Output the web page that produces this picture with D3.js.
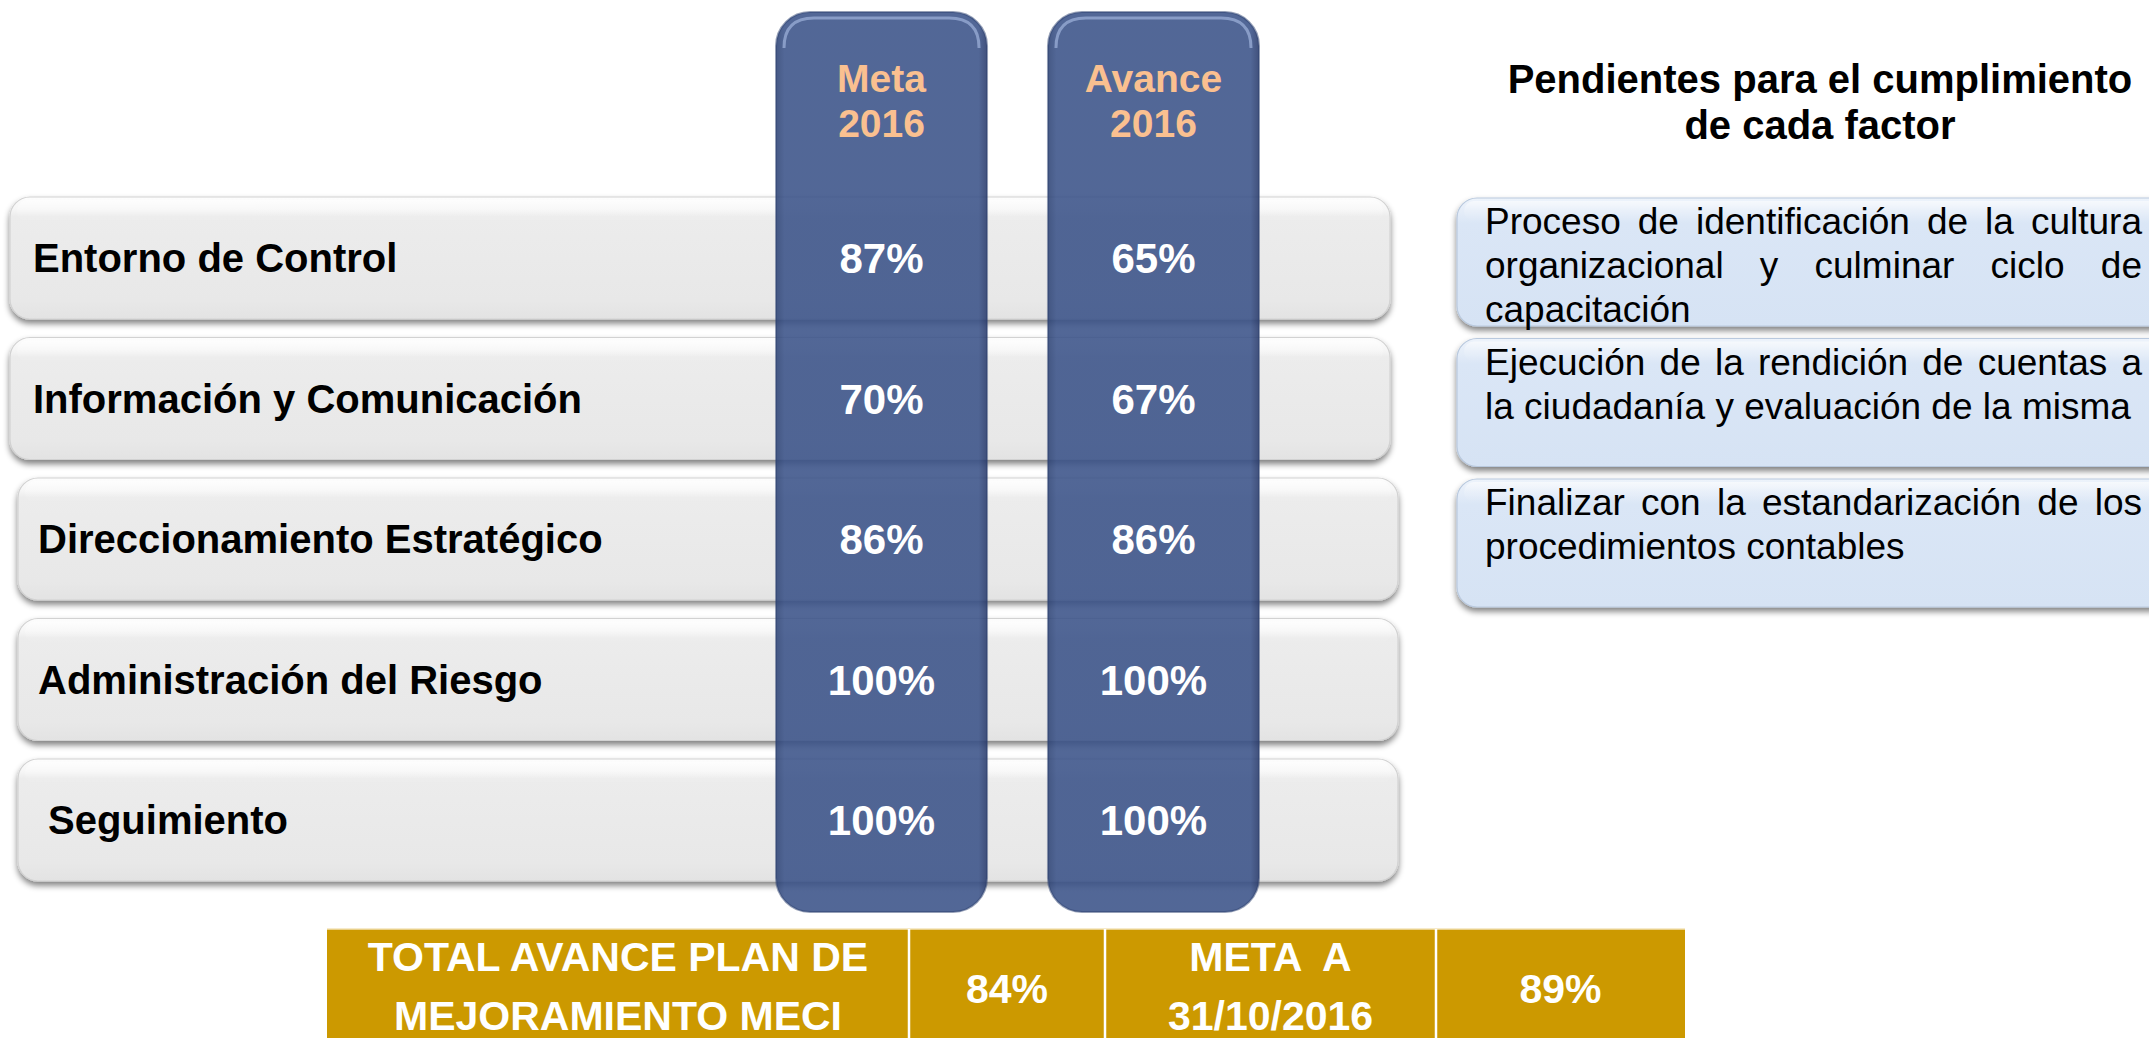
<!DOCTYPE html>
<html><head><meta charset="utf-8">
<script src="https://cdn.jsdelivr.net/npm/d3@7/dist/d3.min.js"></script>
<style>
html,body{margin:0;padding:0;background:#fff;overflow:hidden}
svg{display:block}
text{font-family:"Liberation Sans",Arial,Helvetica,sans-serif;white-space:pre}
</style></head>
<body>
<svg id="chart" width="2149" height="1038"></svg>
<script>
// ---------- data ----------
const factors = ["Entorno de Control", "Información y Comunicación", "Direccionamiento Estratégico", "Administración del Riesgo", "Seguimiento"];
const meta2016 = [87, 70, 86, 100, 100];
const avance2016 = [65, 67, 86, 100, 100];
const seriesNames = ["Meta 2016", "Avance 2016"];
const seriesHeaders = [["Meta", "2016"], ["Avance", "2016"]];
const pendientesTitle = ["Pendientes para el cumplimiento", "de cada factor"];
const pendientes = [
  ["Proceso de identificación de la cultura", "organizacional y culminar ciclo de", "capacitación"],
  ["Ejecución de la rendición de cuentas a", "la ciudadanía y evaluación de la misma"],
  ["Finalizar con la estandarización de los", "procedimientos contables"]
];
const totalLabels = [["TOTAL AVANCE PLAN DE", "MEJORAMIENTO MECI"], ["META  A", "31/10/2016"]];
const totalValues = [84, 89];

// ---------- layout ----------
const svg = d3.select("#chart");
const defs = svg.append("defs");

const y = d3.scalePoint().domain(factors).range([258, 820]);
const x = d3.scaleBand().domain(seriesNames).range([776, 1259]).paddingInner(0.224);
const fmt = v => v + "%";
const rowInset = [0, 0, 8, 8, 8];      // small left/right offsets of the factor bars
const labelIndent = [0, 0, 5, 5, 15];  // extra indentation of factor labels

// gradients & filters
const gGray = defs.append("linearGradient").attr("id", "gGray").attr("x1", 0).attr("y1", 0).attr("x2", 0).attr("y2", 1);
[[0, "#fdfdfd"], [0.1, "#f6f6f6"], [0.16, "#ececec"], [0.85, "#e8e8e8"], [1, "#e3e3e3"]].forEach(s => gGray.append("stop").attr("offset", s[0]).attr("stop-color", s[1]));
const gBlue = defs.append("linearGradient").attr("id", "gBlue").attr("x1", 0).attr("y1", 0).attr("x2", 0).attr("y2", 1);
[[0, "#edf3fb"], [0.12, "#e3ecf8"], [0.2, "#dae6f6"], [1, "#d6e3f4"]].forEach(s => gBlue.append("stop").attr("offset", s[0]).attr("stop-color", s[1]));
const gCol = defs.append("linearGradient").attr("id", "gCol").attr("x1", 0).attr("y1", 0).attr("x2", 1).attr("y2", 0);
[[0, "#2c4274"], [0.04, "#3a5288"], [0.96, "#3a5288"], [1, "#27396a"]].forEach(s => gCol.append("stop").attr("offset", s[0]).attr("stop-color", s[1]));
const gHi = defs.append("linearGradient").attr("id", "gHi").attr("x1", 0).attr("y1", 0).attr("x2", 0).attr("y2", 1);
[[0, "#ffffff", 0.55], [0.5, "#ffffff", 0.15], [1, "#ffffff", 0]].forEach(s => gHi.append("stop").attr("offset", s[0]).attr("stop-color", s[1]).attr("stop-opacity", s[2]));

const sh = defs.append("filter").attr("id", "shadow").attr("x", "-5%").attr("y", "-10%").attr("width", "110%").attr("height", "130%");
sh.append("feGaussianBlur").attr("in", "SourceAlpha").attr("stdDeviation", 3);
sh.append("feOffset").attr("dx", 0).attr("dy", 4).attr("result", "ob");
sh.append("feComponentTransfer").append("feFuncA").attr("type", "linear").attr("slope", 0.5);
const m = sh.append("feMerge"); m.append("feMergeNode"); m.append("feMergeNode").attr("in", "SourceGraphic");

// ---------- gray factor bars ----------
const rowH = 122;
const rows = svg.append("g").selectAll("g").data(factors).join("g");
rows.append("rect")
  .attr("x", (d, i) => 10 + rowInset[i]).attr("y", d => y(d) - rowH / 2).attr("width", 1380).attr("height", rowH)
  .attr("rx", 20).attr("fill", "url(#gGray)").attr("stroke", "#d2d2d2").attr("stroke-width", 1.2)
  .attr("filter", "url(#shadow)");
rows.append("rect")
  .attr("x", (d, i) => 17 + rowInset[i]).attr("y", d => y(d) - rowH / 2 + 3).attr("width", 1366).attr("height", 22)
  .attr("rx", 11).attr("fill", "url(#gHi)");
rows.append("text")
  .attr("x", (d, i) => 33 + labelIndent[i]).attr("y", d => y(d) + 14)
  .attr("font-size", 40).attr("font-weight", "bold").attr("fill", "#000")
  .text(d => d);

// ---------- blue pendientes boxes ----------
const pBox = svg.append("g").selectAll("g").data(pendientes).join("g");
const boxH = 128;
pBox.append("rect")
  .attr("x", 1457).attr("y", (d, i) => y(factors[i]) - boxH / 2 + 4).attr("width", 760).attr("height", boxH)
  .attr("rx", 20).attr("fill", "url(#gBlue)").attr("stroke", "#b9c9de").attr("stroke-width", 1.2)
  .attr("filter", "url(#shadow)");
pBox.append("rect")
  .attr("x", 1464).attr("y", (d, i) => y(factors[i]) - boxH / 2 + 7).attr("width", 746).attr("height", 20)
  .attr("rx", 10).attr("fill", "url(#gHi)");

// justified text
const textLeft = 1485, textRight = 2142, bodySize = 37, lineGap = 44;
const measurer = svg.append("text").attr("font-size", bodySize).attr("visibility", "hidden");
function wordW(w) { measurer.text(w); return measurer.node().getComputedTextLength(); }
pendientes.forEach((lines, bi) => {
  const top = y(factors[bi]) - boxH / 2 + 4;
  lines.forEach((line, li) => {
    const by = top + 36 + li * lineGap;
    const last = li === lines.length - 1;
    if (last) {
      svg.append("text").attr("x", textLeft).attr("y", by).attr("font-size", bodySize).attr("fill", "#000").text(line);
    } else {
      const words = line.split(" ");
      const widths = words.map(wordW);
      const gap = (textRight - textLeft - d3.sum(widths)) / (words.length - 1);
      let cx = textLeft;
      const t = svg.append("text").attr("y", by).attr("font-size", bodySize).attr("fill", "#000");
      words.forEach((w, wi) => {
        t.append("tspan").attr("x", cx).text(w);
        cx += widths[wi] + gap;
      });
    }
  });
});
measurer.remove();

// title
svg.append("g").selectAll("text").data(pendientesTitle).join("text")
  .attr("x", 1820).attr("y", (d, i) => 93 + i * 46)
  .attr("text-anchor", "middle").attr("font-size", 40).attr("font-weight", "bold").attr("fill", "#000")
  .text(d => d);

// ---------- columns ----------
const colTop = 12, colBottom = 912;
const cols = svg.append("g").selectAll("g").data(seriesNames).join("g");
cols.append("rect")
  .attr("x", d => x(d)).attr("y", colTop).attr("width", x.bandwidth()).attr("height", colBottom - colTop)
  .attr("rx", 34).attr("fill", "url(#gCol)").attr("fill-opacity", 0.88)
  .attr("stroke", "#2e4270").attr("stroke-opacity", 0.5).attr("stroke-width", 2);
cols.append("path")
  .attr("d", d => {
    const x0 = x(d) + 8, x1 = x(d) + x.bandwidth() - 8, yy = colTop + 6;
    return `M${x0},${yy + 30} Q${x0},${yy} ${x0 + 30},${yy} L${x1 - 30},${yy} Q${x1},${yy} ${x1},${yy + 30}`;
  })
  .attr("fill", "none").attr("stroke", "#9fb4dc").attr("stroke-opacity", 0.7).attr("stroke-width", 3);
cols.each(function (d, i) {
  d3.select(this).selectAll("text.h").data(seriesHeaders[i]).join("text").attr("class", "h")
    .attr("x", x(d) + x.bandwidth() / 2).attr("y", (t, k) => 92 + k * 45)
    .attr("text-anchor", "middle").attr("font-size", 39).attr("font-weight", "bold").attr("fill", "#FAC090")
    .text(t => t);
});

// values
const values = [meta2016, avance2016];
seriesNames.forEach((s, si) => {
  svg.append("g").selectAll("text").data(values[si]).join("text")
    .attr("x", x(s) + x.bandwidth() / 2).attr("y", (v, i) => y(factors[i]) + 15)
    .attr("text-anchor", "middle").attr("font-size", 42).attr("font-weight", "bold").attr("fill", "#fff")
    .text(fmt);
});

// ---------- totals table ----------
const cellEdges = [327, 909, 1105, 1436, 1685];
const tableTop = 929;
const cells = [
  { lines: totalLabels[0] }, { lines: [fmt(totalValues[0])] },
  { lines: totalLabels[1] }, { lines: [fmt(totalValues[1])] }
];
const tg = svg.append("g");
tg.append("rect").attr("x", cellEdges[0]).attr("y", tableTop).attr("width", cellEdges[4] - cellEdges[0]).attr("height", 140).attr("fill", "#CC9900");
tg.append("line").attr("x1", cellEdges[0]).attr("x2", cellEdges[4]).attr("y1", tableTop).attr("y2", tableTop).attr("stroke", "#f3e3b8").attr("stroke-width", 1.5);
cellEdges.slice(1, 4).forEach(e => tg.append("line").attr("x1", e).attr("x2", e).attr("y1", tableTop).attr("y2", 1038).attr("stroke", "#fff").attr("stroke-width", 2.5));
cells.forEach((c, i) => {
  const cx = (cellEdges[i] + cellEdges[i + 1]) / 2;
  tg.selectAll(null).data(c.lines).join("text")
    .attr("x", cx).attr("y", (t, k) => c.lines.length === 1 ? 1003 : 971 + k * 59)
    .attr("text-anchor", "middle").attr("font-size", 41).attr("font-weight", "bold").attr("fill", "#fff")
    .text(t => t);
});
</script>
</body></html>
